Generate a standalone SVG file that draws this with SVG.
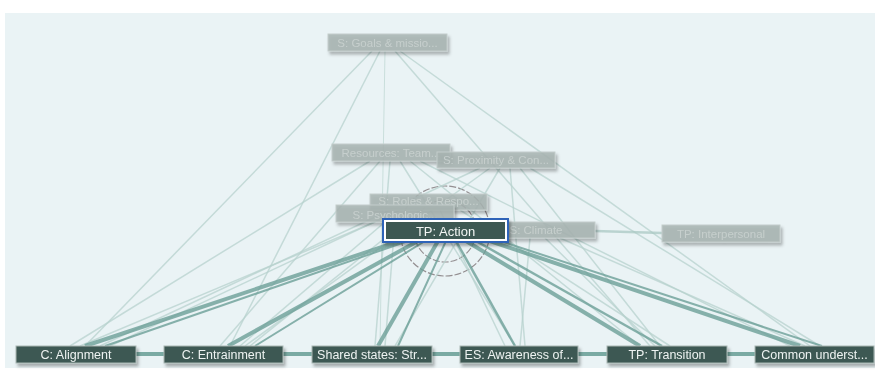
<svg xmlns="http://www.w3.org/2000/svg" width="875" height="370" viewBox="0 0 875 370">
<defs>
<filter id="sh" x="-10%" y="-30%" width="125%" height="190%">
<feDropShadow dx="2" dy="3" stdDeviation="1.5" flood-color="#000" flood-opacity="0.3"/>
</filter>
<style>
.bg{fill:#eaf3f5}
.faint{stroke:#b7d1cd;stroke-width:1.5;fill:none;opacity:.75}
.faint2{stroke:#c9dedb;stroke-width:1;fill:none}
.thick{stroke:#6b9f97;fill:none;opacity:.8}
.link{stroke:#7aaaa3;stroke-width:4}
.dark rect{fill:#3e5953;stroke:#a9b7b4;stroke-width:1}
.dark text{fill:#eef3f2;font-family:"Liberation Sans",Arial,sans-serif;font-size:12.5px;text-anchor:middle}
.fade rect{fill:#a8b4b2;fill-opacity:.85;stroke:#c3cdcb;stroke-width:1}
.fade text{fill:#c6cfcd;font-family:"Liberation Sans",Arial,sans-serif;font-size:11.5px;text-anchor:middle}
.ring{fill:none;stroke:#6f6466;stroke-width:1.2;stroke-dasharray:7 2;opacity:.7}
</style>
</defs>
<rect x="0" y="0" width="875" height="370" fill="#ffffff"/>
<rect class="bg" x="5" y="13" width="870" height="355"/>

<g id="rings">
<circle class="ring" cx="445" cy="231" r="45"/>
<circle class="ring" cx="445" cy="231" r="31"/>
</g>

<g id="connectors">
<line class="faint" x1="372" y1="51" x2="85" y2="346"/>
<line class="faint" x1="380" y1="51" x2="230" y2="346"/>
<line class="faint2" x1="385" y1="51" x2="380" y2="346"/>
<line class="faint" x1="395" y1="51" x2="650" y2="346"/>
<line class="faint" x1="400" y1="51" x2="810" y2="346"/>
<line class="faint" x1="370" y1="161" x2="70" y2="346"/>
<line class="faint" x1="380" y1="161" x2="220" y2="346"/>
<line class="faint" x1="390" y1="161" x2="375" y2="346"/>
<line class="faint" x1="400" y1="161" x2="515" y2="346"/>
<line class="faint" x1="410" y1="161" x2="640" y2="346"/>
<line class="faint" x1="420" y1="161" x2="790" y2="346"/>
<line class="faint" x1="480" y1="168" x2="100" y2="346"/>
<line class="faint" x1="490" y1="168" x2="245" y2="346"/>
<line class="faint" x1="500" y1="168" x2="395" y2="346"/>
<line class="faint" x1="510" y1="168" x2="525" y2="346"/>
<line class="faint" x1="520" y1="168" x2="660" y2="346"/>
<line class="faint" x1="530" y1="168" x2="820" y2="346"/>
<line class="faint" x1="400" y1="210" x2="110" y2="346"/>
<line class="faint" x1="420" y1="210" x2="250" y2="346"/>
<line class="faint" x1="440" y1="210" x2="505" y2="346"/>
<line class="faint" x1="460" y1="210" x2="670" y2="346"/>
<line class="faint" x1="375" y1="222" x2="80" y2="346"/>
<line class="faint" x1="385" y1="222" x2="240" y2="346"/>
<line class="faint" x1="395" y1="222" x2="385" y2="346"/>
<line class="faint" x1="530" y1="238" x2="520" y2="346"/>
<line class="faint" x1="545" y1="238" x2="655" y2="346"/>
<line class="faint" x1="560" y1="238" x2="805" y2="346"/>
<line class="faint" x1="595" y1="231" x2="662" y2="233" style="stroke-width:2.5;stroke:#a9c8c3"/>
<line class="thick" x1="400" y1="241" x2="85" y2="346" stroke-width="4"/>
<line class="thick" x1="408" y1="241" x2="105" y2="346" stroke-width="2"/>
<line class="thick" x1="418" y1="241" x2="228" y2="346" stroke-width="4"/>
<line class="thick" x1="425" y1="241" x2="255" y2="346" stroke-width="2"/>
<line class="thick" x1="438" y1="241" x2="378" y2="346" stroke-width="4"/>
<line class="thick" x1="446" y1="241" x2="398" y2="346" stroke-width="2"/>
<line class="thick" x1="456" y1="241" x2="515" y2="346" stroke-width="2.5"/>
<line class="thick" x1="466" y1="241" x2="640" y2="346" stroke-width="4"/>
<line class="thick" x1="476" y1="241" x2="662" y2="346" stroke-width="2.5"/>
<line class="thick" x1="490" y1="241" x2="800" y2="346" stroke-width="4"/>
<line class="thick" x1="500" y1="241" x2="822" y2="346" stroke-width="2"/>
<line class="link" x1="136" y1="354" x2="164" y2="354"/>
<line class="link" x1="283" y1="354" x2="312" y2="354"/>
<line class="link" x1="432" y1="354" x2="460" y2="354"/>
<line class="link" x1="578" y1="354" x2="607" y2="354"/>
<line class="link" x1="727" y1="354" x2="755" y2="354"/>
</g>

<g id="n-goals" class="fade" filter="url(#sh)"><rect x="328" y="34" width="119" height="17"/><text x="387.5" y="46.5">S: Goals &amp; missio...</text></g>
<g id="n-resources" class="fade" filter="url(#sh)"><rect x="332" y="144" width="118" height="17"/><text x="391" y="156.5">Resources: Team...</text></g>
<g id="n-proximity" class="fade" filter="url(#sh)"><rect x="437" y="152" width="118" height="16"/><text x="496" y="164">S: Proximity &amp; Con...</text></g>
<g id="n-roles" class="fade" filter="url(#sh)"><rect x="370" y="194" width="117" height="16"/><text x="428.5" y="204.5">S: Roles &amp; Respo...</text></g>
<g id="n-psych" class="fade" filter="url(#sh)"><rect x="336" y="205" width="118" height="17"/><text x="395" y="219">S: Psychologic...</text></g>
<g id="n-climate" class="fade" filter="url(#sh)"><rect x="477" y="222" width="118" height="16"/><text x="536" y="234">S: Climate</text></g>
<g id="n-interpersonal" class="fade" filter="url(#sh)"><rect x="662" y="225" width="118" height="17"/><text x="721" y="237.5">TP: Interpersonal</text></g>

<g id="n-action" filter="url(#sh)">
<rect x="383" y="219" width="125" height="23" fill="#ffffff" stroke="#2f63b8" stroke-width="2"/>
<rect x="386" y="222" width="119" height="17" fill="#3e5953"/>
<text x="445.5" y="235.5" fill="#f2f5f4" font-family="Liberation Sans, Arial, sans-serif" font-size="13" text-anchor="middle">TP: Action</text>
</g>

<g id="n-alignment" class="dark" filter="url(#sh)"><rect x="16" y="346" width="120" height="17"/><text x="76" y="359">C: Alignment</text></g>
<g id="n-entrainment" class="dark" filter="url(#sh)"><rect x="164" y="346" width="119" height="17"/><text x="223.5" y="359">C: Entrainment</text></g>
<g id="n-shared" class="dark" filter="url(#sh)"><rect x="312" y="346" width="120" height="17"/><text x="372" y="359">Shared states: Str...</text></g>
<g id="n-awareness" class="dark" filter="url(#sh)"><rect x="460" y="346" width="118" height="17"/><text x="519" y="359">ES: Awareness of...</text></g>
<g id="n-transition" class="dark" filter="url(#sh)"><rect x="607" y="346" width="120" height="17"/><text x="667" y="359">TP: Transition</text></g>
<g id="n-common" class="dark" filter="url(#sh)"><rect x="755" y="346" width="119" height="17"/><text x="814.5" y="359">Common underst...</text></g>
</svg>
